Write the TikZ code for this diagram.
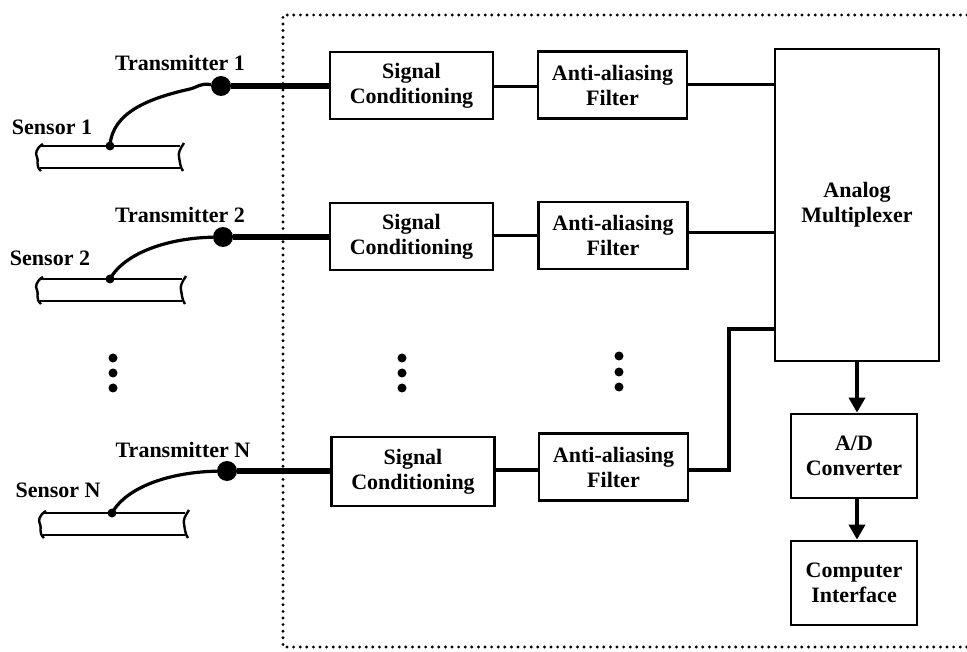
\documentclass[tikz,border=0pt]{standalone}
\usepackage{fontspec}
\setmainfont{Liberation Serif}
\usetikzlibrary{arrows.meta}

\tikzset{
	block/.style={draw, line width=2.8pt, align=center, inner sep=0pt,
		font=\bfseries\fontsize{22}{25}\selectfont},
	lbl/.style={font=\bfseries\fontsize{22}{25}\selectfont},
	txdot/.style={circle, fill, inner sep=0pt, minimum size=20pt},
	vdot/.style={circle, fill, inner sep=0pt, minimum size=9pt},
	wire/.style={line width=3pt},
	bus/.style={line width=5.5pt},
	cable/.style={line width=3.2pt},
	flow/.style={line width=4pt, -{Triangle[width=16pt,length=15pt]}},
	pipe/.style={line width=2.4pt}
}

\begin{document}
\begin{tikzpicture}[x=1pt, y=-1pt]
		\useasboundingbox (0,0) rectangle (967,652);
		
		% dotted frame round the acquisition unit
		\draw[line width=3.2pt, dash pattern=on 0pt off 6.6pt, line cap=round]
			(967,15) -- (283,15) -- (283,647) -- (967,647);
		
		\node[lbl] (t1) at (180,63) {Transmitter 1};
		\node[lbl] (t2) at (180,215) {Transmitter 2};
		\node[lbl] (tN) at (183,450) {Transmitter N};
		\node[lbl] (s1) at (52,127) {Sensor 1};
		\node[lbl] (s2) at (50,258) {Sensor 2};
		\node[lbl] (sN) at (58,490) {Sensor N};
		
		\node[txdot] (tx1) at (221,86) {};
		\node[txdot] (tx2) at (223,237) {};
		\node[txdot] (txN) at (227,471) {};
		
		% sensors
		\begin{scope}[shift={(0,146)}]
			\draw[pipe, line width=2.8pt] (40,0) -- (180,0);
			\draw[pipe] (40,22) -- (180,22);
			\draw[pipe] (43,-2) .. controls (36,2) and (35,8) .. (37,11) .. controls (39,14) and (35,20) .. (41,25);
			\draw[pipe] (184,-3) .. controls (180,3) and (178,7) .. (179,11) .. controls (180,16) and (180,21) .. (183,25);
		\end{scope}
		\begin{scope}[shift={(0,279)}]
			\draw[pipe, line width=2.8pt] (40,0) -- (182,0);
			\draw[pipe] (40,22) -- (182,22);
			\draw[pipe] (43,-2) .. controls (36,2) and (35,8) .. (37,11) .. controls (39,14) and (35,20) .. (41,25);
			\draw[pipe] (186,-3) .. controls (182,3) and (180,7) .. (181,11) .. controls (182,16) and (182,21) .. (185,25);
		\end{scope}
		\begin{scope}[shift={(0,513)}]
			\draw[pipe, line width=2.8pt] (43,0) -- (185,0);
			\draw[pipe] (43,22) -- (185,22);
			\draw[pipe] (46,-2) .. controls (39,2) and (38,8) .. (40,11) .. controls (42,14) and (38,20) .. (44,25);
			\draw[pipe] (189,-3) .. controls (185,3) and (183,7) .. (184,11) .. controls (185,16) and (185,21) .. (188,25);
		\end{scope}
		
		% cables from sensor to transmitter
		\coordinate (c1) at (110,146);
		\coordinate (c2) at (110,279);
		\coordinate (cN) at (112,513);
		\fill (c1) circle (4.5pt);
		\fill (c2) circle (4.5pt);
		\fill (cN) circle (4.5pt);
		\draw[cable] (c1) .. controls (112,112) and (150,98) .. (190,89)
			.. controls (198,87) and (200,83) .. (tx1);
		\draw[cable] (c2) .. controls (125,252) and (170,238) .. (tx2);
		\draw[cable] (cN) .. controls (127,486) and (172,472) .. (txN);
		
		% processing chain
		\node[block, minimum width=163pt, minimum height=67pt] (sc1) at (411.5,85.5) {Signal\\Conditioning};
		\node[block, minimum width=163pt, minimum height=67pt] (sc2) at (411.5,236.5) {Signal\\Conditioning};
		\node[block, minimum width=163pt, minimum height=69pt] (scN) at (413,471.5) {Signal\\Conditioning};
		
		\node[block, minimum width=149pt, minimum height=67pt] (aaf1) at (612.5,85) {Anti-aliasing\\Filter};
		\node[block, minimum width=149pt, minimum height=67pt] (aaf2) at (613,235.5) {Anti-aliasing\\Filter};
		\node[block, minimum width=149pt, minimum height=67pt] (aafN) at (613.5,467) {Anti-aliasing\\Filter};
		
		\node[block, minimum width=164pt, minimum height=312pt] (mux) at (857,205) {Analog\\Multiplexer};
		\node[block, minimum width=126pt, minimum height=84pt] (adc) at (854,456) {A/D\\Converter};
		\node[block, minimum width=126pt, minimum height=84pt] (cpu) at (854,583) {Computer\\Interface};
		
		\node[vdot] (d1a) at (113,358) {};
		\node[vdot] (d1b) at (113,373) {};
		\node[vdot] (d1c) at (113,388) {};
		\node[vdot] (d2a) at (402,358) {};
		\node[vdot] (d2b) at (402,373) {};
		\node[vdot] (d2c) at (402,388) {};
		\node[vdot] (d3a) at (619,356) {};
		\node[vdot] (d3b) at (619,372) {};
		\node[vdot] (d3c) at (619,387) {};
		
		\draw[bus] (tx1) -- (tx1 -| sc1.west);
		\draw[bus] (tx2) -- (tx2 -| sc2.west);
		\draw[bus] (txN) -- (txN -| scN.west);
		
		\draw[wire] (sc1.east |- 0,87) -- (aaf1.west |- 0,87);
		\draw[wire] (sc2.east |- 0,236) -- (aaf2.west |- 0,236);
		\draw[wire, line width=3.8pt] (scN.east |- 0,470) -- (aafN.west |- 0,470);
		
		\draw[wire] (aaf1.east) -- (aaf1.east -| mux.west);
		\draw[wire] (aaf2.east |- 0,233) -- (mux.west |- 0,233);
		\coordinate (jN) at (729,329);
		\draw[wire, line width=4pt] (aafN.east |- 0,470) -| (jN) -- (jN -| mux.west);
		
		\draw[flow] (mux.south) -- (mux.south |- adc.north);
		\draw[flow] (adc.south -| mux.south) -- (cpu.north -| mux.south);
	\end{tikzpicture}
\end{document}
